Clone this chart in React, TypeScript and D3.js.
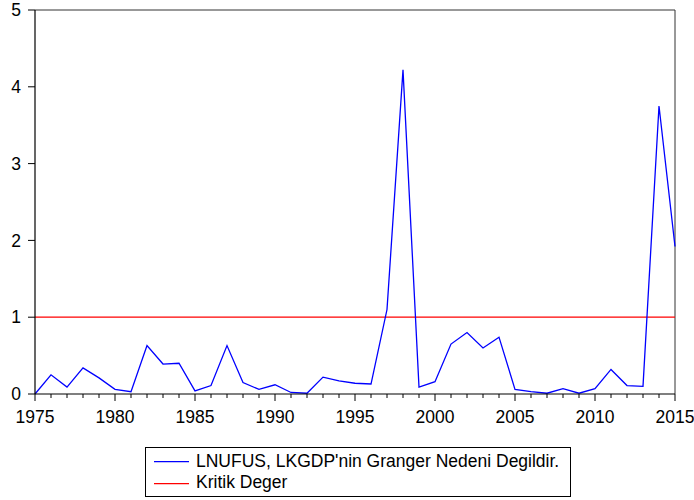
import React from "react";
import * as d3 from "d3";

const years: number[] = d3.range(1975, 2016);
const statValues: number[] = [
  0.0, 0.25, 0.09, 0.34, 0.21, 0.06, 0.03, 0.63, 0.39, 0.40,
  0.04, 0.11, 0.63, 0.15, 0.06, 0.12, 0.02, 0.01, 0.22, 0.17,
  0.14, 0.13, 1.10, 4.22, 0.09, 0.16, 0.65, 0.80, 0.60, 0.74,
  0.06, 0.03, 0.01, 0.07, 0.01, 0.07, 0.32, 0.11, 0.10, 3.75,
  1.92,
];
const criticalValue = 1;
const yTicks: number[] = [0, 1, 2, 3, 4, 5];
const xMajorTicks: number[] = [1975, 1980, 1985, 1990, 1995, 2000, 2005, 2010, 2015];
const legendLabels: string[] = [
  "LNUFUS, LKGDP'nin Granger Nedeni Degildir.",
  "Kritik Deger",
];

const W = 694;
const H = 500;
const left = 35;
const right = 675;
const top = 10;
const bottom = 394;
const font = "'Liberation Sans', Arial, sans-serif";

export default function App() {
  const x = d3.scaleLinear().domain([1975, 2015]).range([left, right]);
  const y = d3.scaleLinear().domain([0, 5]).range([bottom, top]);
  const line = d3
    .line<number>()
    .x((_, i) => x(years[i]))
    .y((d) => y(d));
  const pathD = line(statValues) || "";

  return (
    <svg
      width={W}
      height={H}
      style={{ position: "absolute", left: 0, top: 0, background: "#fff" }}
      fontFamily={font}
    >
      <rect x={0} y={0} width={W} height={H} fill="#fff" />
      {/* frame */}
      <line x1={left} x2={right} y1={top} y2={top} stroke="#333" strokeWidth={1} />
      <line x1={right} x2={right} y1={top} y2={bottom} stroke="#333" strokeWidth={1} />
      {/* critical line */}
      <line
        x1={x(1975)}
        x2={x(2015)}
        y1={y(criticalValue)}
        y2={y(criticalValue)}
        stroke="#ff0000"
        strokeWidth={1.3}
      />
      {/* series */}
      <path d={pathD} fill="none" stroke="#0000ff" strokeWidth={1.3} strokeLinejoin="miter" />
      {/* y axis */}
      <line x1={left} x2={left} y1={top} y2={bottom} stroke="#000" strokeWidth={1.2} />
      {yTicks.map((t) => (
        <g key={"y" + t}>
          <line x1={left - 7} x2={left} y1={y(t)} y2={y(t)} stroke="#000" strokeWidth={1} />
          <text x={left - 14} y={y(t)} dy="0.35em" textAnchor="end" fontSize={17.5} fill="#000">
            {t}
          </text>
        </g>
      ))}
      {/* x axis */}
      <line x1={left} x2={right} y1={bottom} y2={bottom} stroke="#000" strokeWidth={1.2} />
      {years.map((yr) => {
        const major = xMajorTicks.includes(yr);
        return (
          <line
            key={"xt" + yr}
            x1={x(yr)}
            x2={x(yr)}
            y1={bottom}
            y2={bottom + (major ? 7 : 4)}
            stroke="#000"
            strokeWidth={1}
          />
        );
      })}
      {xMajorTicks.map((t) => (
        <text key={"xl" + t} x={x(t)} y={423} textAnchor="middle" fontSize={17.5} fill="#000">
          {t}
        </text>
      ))}
      {/* legend */}
      <rect x={145.5} y={447.5} width={425} height={49} fill="#fff" stroke="#000" strokeWidth={1} />
      <line x1={154} x2={189} y1={461.7} y2={461.7} stroke="#0000ff" strokeWidth={1.3} />
      <line x1={154} x2={189} y1={483.7} y2={483.7} stroke="#ff0000" strokeWidth={1.3} />
      <text x={196} y={466.5} fontSize={17.5} fill="#000">
        {legendLabels[0]}
      </text>
      <text x={196} y={488.3} fontSize={17.5} fill="#000">
        {legendLabels[1]}
      </text>
    </svg>
  );
}
